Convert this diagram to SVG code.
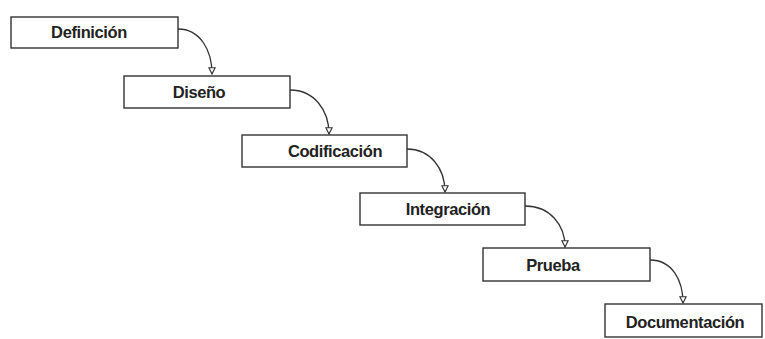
<svg xmlns="http://www.w3.org/2000/svg" width="765" height="339" viewBox="0 0 765 339">
<defs>
<style>
.box{fill:#fff;stroke:#333;stroke-width:1.4}
.lbl{font-family:"Liberation Sans",Arial,sans-serif;font-weight:bold;font-size:16.5px;fill:#222;text-anchor:middle;letter-spacing:-0.4px}
.con{fill:none;stroke:#333;stroke-width:1.3}
</style>
<marker id="ah" viewBox="0 0 10 10" refX="9" refY="5" markerWidth="6" markerHeight="6" orient="auto">
<path d="M1,1 L9,5 L1,9 Z" fill="#fff" stroke="#333" stroke-width="1.5"/>
</marker>
</defs>
<rect width="765" height="339" fill="#fff"/>
<g id="connectors">
<path class="con" d="M178,29 C200,29 212,50 212,74" marker-end="url(#ah)"/>
<path class="con" d="M290,90 C314,90 329,110 329,134" marker-end="url(#ah)"/>
<path class="con" d="M407,149 C430,149 445,168 445,192" marker-end="url(#ah)"/>
<path class="con" d="M525,206 C550,206 565,225 565,247" marker-end="url(#ah)"/>
<path class="con" d="M650,260 C672,260 683,280 683,303" marker-end="url(#ah)"/>
</g>
<g id="n1"><rect class="box" x="11" y="17" width="167" height="31"/><text class="lbl" x="89" y="38">Definición</text></g>
<g id="n2"><rect class="box" x="124" y="76" width="166" height="32"/><text class="lbl" x="199" y="98">Diseño</text></g>
<g id="n3"><rect class="box" x="242" y="135" width="165" height="32"/><text class="lbl" x="335" y="157">Codificación</text></g>
<g id="n4"><rect class="box" x="360" y="193" width="165" height="32"/><text class="lbl" x="448" y="215">Integración</text></g>
<g id="n5"><rect class="box" x="483" y="248" width="167" height="33"/><text class="lbl" x="553" y="271">Prueba</text></g>
<g id="n6"><rect class="box" x="605" y="304" width="157" height="33"/><text class="lbl" x="685" y="328">Documentación</text></g>
</svg>
